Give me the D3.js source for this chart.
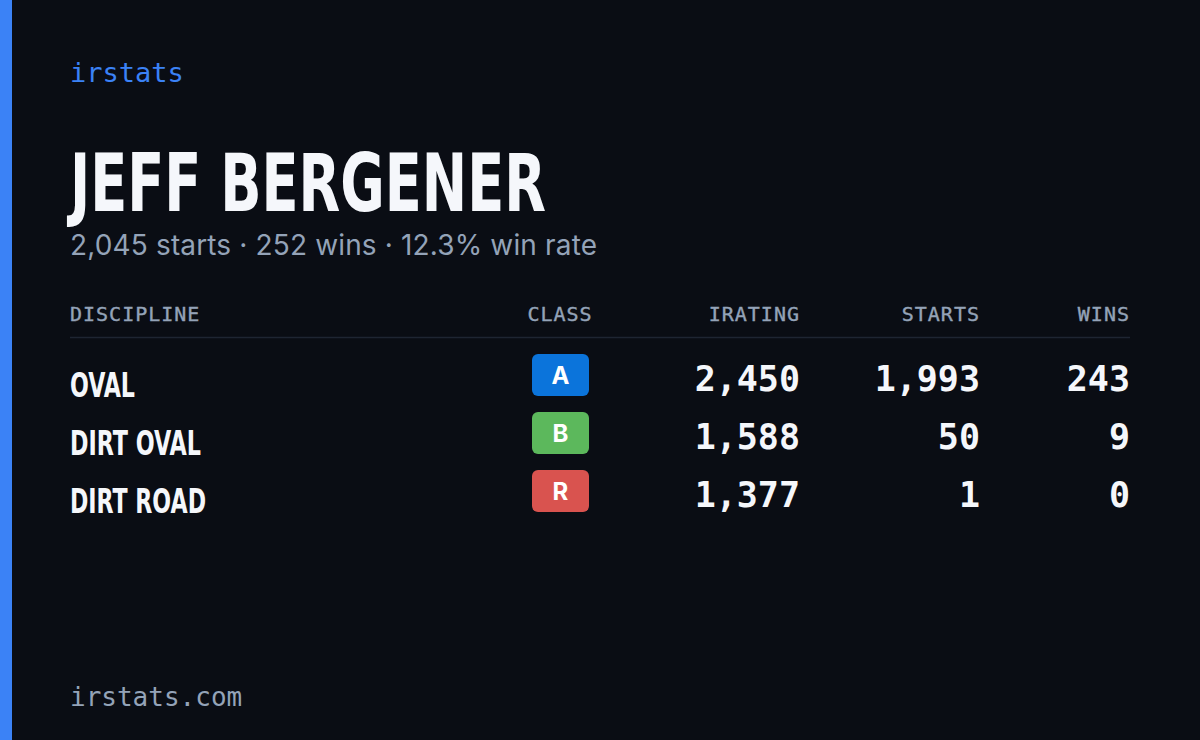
<!DOCTYPE html><html><head><meta charset="utf-8">
<script src="https://cdn.jsdelivr.net/npm/d3@7"></script>
<style>body{margin:0;background:#0a0d14}</style></head><body>
<svg id="c" width="1200" height="740"></svg>
<script>
const driver = "JEFF BERGENER";
const subtitle = "2,045 starts · 252 wins · 12.3% win rate";
const headers = ["DISCIPLINE","CLASS","IRATING","STARTS","WINS"];
const disciplines = ["OVAL","DIRT OVAL","DIRT ROAD"];
const classes = ["A","B","R"];
const classColors = ["#0b74db","#5cb85c","#d9534f"];
const iratings = [2450,1588,1377];
const starts = [1993,50,1];
const wins = [243,9,0];

const svg = d3.select("#c");
svg.append("rect").attr("width",1200).attr("height",740).attr("fill","#0a0d14");
svg.append("rect").attr("width",12).attr("height",740).attr("fill","#3b82f6");
const mono = "'DejaVu Sans Mono', 'Liberation Mono', monospace";
const cond = "'DejaVu Sans Condensed','Liberation Sans Narrow','Roboto',sans-serif";
svg.append("text").attr("x",70).attr("y",82).text("irstats").attr("font-family",mono).attr("font-size",27).attr("fill","#3b82f6");
svg.append("text").attr("x",70).attr("y",211).text(driver).attr("font-family",cond).attr("font-weight",700).attr("font-size",80)
  .attr("fill","#f5f7fb").attr("textLength",476).attr("lengthAdjust","spacingAndGlyphs");
svg.append("text").attr("x",70).attr("y",255).text(subtitle).attr("font-family","Inter, 'Noto Sans', sans-serif").attr("font-size",28).attr("fill","#94a3b8")
  .attr("textLength",527).attr("lengthAdjust","spacing");

const y = d3.scaleBand().domain(disciplines).range([350,524]).paddingInner(0);
const fmt = d3.format(",");
const colX = [70,560,800,980,1130];
const anchors = ["start","middle","end","end","end"];
svg.selectAll("text.h").data(headers).join("text").attr("class","h")
  .attr("x",(d,i)=>colX[i]).attr("y",321).attr("text-anchor",(d,i)=>anchors[i])
  .attr("font-family",mono).attr("font-size",20).attr("letter-spacing",1).attr("fill","#94a3b8")
  .attr("stroke","#94a3b8").attr("stroke-width",0.4).text(d=>d);
svg.append("line").attr("x1",70).attr("x2",1130).attr("y1",337.5).attr("y2",337.5).attr("stroke","#1e2532").attr("stroke-width",1.5);

const rows = svg.selectAll("g.r").data(disciplines).join("g").attr("class","r")
  .attr("transform",d=>`translate(0,${y(d)})`);
rows.append("text").attr("x",70).attr("y",47).text(d=>d).attr("font-family",cond).attr("font-weight",700)
  .attr("font-size",33).attr("fill","#f5f7fb").attr("textLength",(d,i)=>[65,131,136][i]).attr("lengthAdjust","spacingAndGlyphs");
rows.append("rect").attr("x",532).attr("y",4).attr("width",57).attr("height",42).attr("rx",6).attr("fill",(d,i)=>classColors[i]);
rows.append("text").attr("x",560.5).attr("y",34).attr("text-anchor","middle").text((d,i)=>classes[i])
  .attr("font-family","Inter, sans-serif").attr("font-weight",700).attr("font-size",24).attr("fill","#fff");
const nums = [iratings,starts,wins];
nums.forEach((arr,k)=>{
  rows.append("text").attr("x",colX[k+2]).attr("y",41).attr("text-anchor","end").text((d,i)=>fmt(arr[i]))
    .attr("font-family",mono).attr("font-weight",700).attr("font-size",35).attr("fill","#f5f7fb");
});
svg.append("text").attr("x",70).attr("y",706).text("irstats.com").attr("font-family",mono).attr("font-size",26).attr("fill","#94a3b8");
</script></body></html>
